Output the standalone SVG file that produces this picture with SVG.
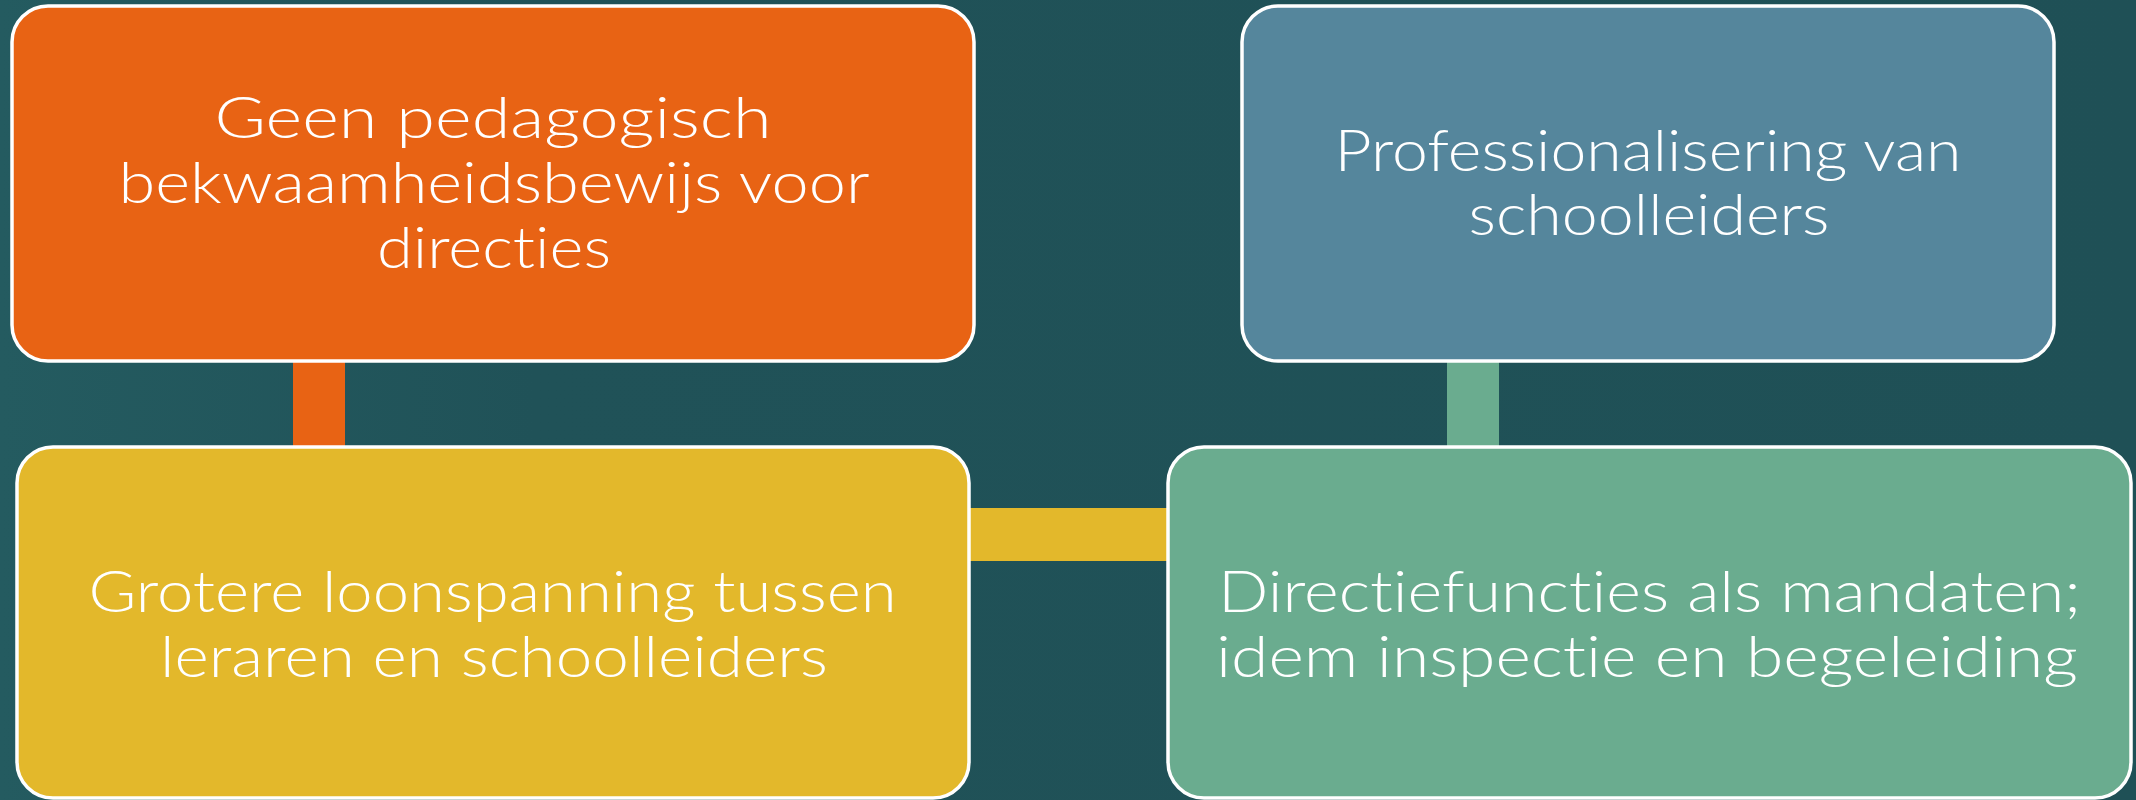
<svg xmlns="http://www.w3.org/2000/svg" width="2136" height="800" viewBox="0 0 2136 800">
<defs>
<linearGradient id="bg" x1="0" y1="0" x2="1" y2="0">
<stop offset="0" stop-color="#245b60"/>
<stop offset="0.25" stop-color="#205258"/>
<stop offset="1" stop-color="#1f5056"/>
</linearGradient>
<style>
.box{stroke:#ffffff;stroke-width:3.5}
.t{font-family:Lato,"Liberation Sans",Arial,sans-serif;font-weight:300;font-size:58px;fill:#ffffff;text-anchor:middle;font-variant-ligatures:none;font-feature-settings:"liga" 0}
</style>
</defs>
<rect x="0" y="0" width="2136" height="800" fill="url(#bg)"/>
<g id="connectors">
<rect x="293" y="355" width="52" height="98" fill="#e86314"/>
<rect x="963" y="508" width="210" height="53" fill="#e3b82b"/>
<rect x="1447" y="355" width="52" height="98" fill="#6aac8f"/>
</g>
<g id="node-geen">
<rect class="box" x="12" y="6" width="962" height="355" rx="36" ry="36" fill="#e86314"/>
<text class="t" x="493" y="138" textLength="557" lengthAdjust="spacingAndGlyphs">Geen pedagogisch</text>
<text class="t" x="494" y="203" textLength="751" lengthAdjust="spacingAndGlyphs">bekwaamheidsbewijs voor</text>
<text class="t" x="494" y="268" textLength="234" lengthAdjust="spacingAndGlyphs">directies</text>
</g>
<g id="node-prof">
<rect class="box" x="1242" y="6" width="812" height="355" rx="36" ry="36" fill="#55869c"/>
<text class="t" x="1648" y="171" textLength="627" lengthAdjust="spacingAndGlyphs">Professionalisering van</text>
<text class="t" x="1649" y="235" textLength="361" lengthAdjust="spacingAndGlyphs">schoolleiders</text>
</g>
<g id="node-loon">
<rect class="box" x="17" y="447" width="952" height="351" rx="36" ry="36" fill="#e3b82b"/>
<text class="t" x="492.5" y="612" textLength="808" lengthAdjust="spacingAndGlyphs">Grotere loonspanning tussen</text>
<text class="t" x="494" y="677" textLength="668" lengthAdjust="spacingAndGlyphs">leraren en schoolleiders</text>
</g>
<g id="node-directie">
<rect class="box" x="1168" y="447" width="963" height="351" rx="36" ry="36" fill="#6aac8f"/>
<text class="t" x="1649.5" y="612" textLength="863" lengthAdjust="spacingAndGlyphs">Directiefuncties als mandaten;</text>
<text class="t" x="1647" y="677" textLength="862" lengthAdjust="spacingAndGlyphs">idem inspectie en begeleiding</text>
</g>
</svg>
